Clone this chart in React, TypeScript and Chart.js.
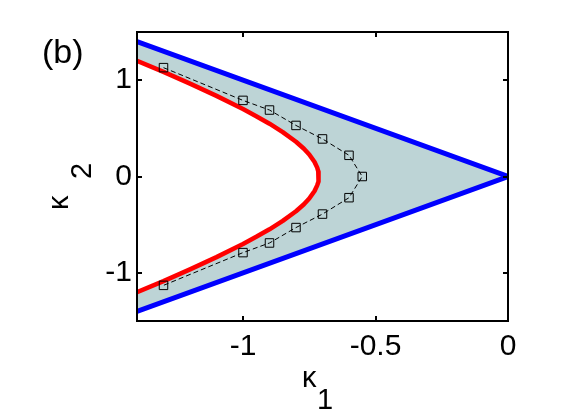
import React, { useEffect, useRef } from "react";
import { Chart, registerables } from "chart.js";

Chart.register(...registerables);

// Axis ticks
const xTickValues = [-1, -0.5, 0];
const xTickLabels = ["-1", "-0.5", "0"];
const yTickValues = [-1, 0, 1];
const yTickLabels = ["-1", "0", "1"];

// Blue boundary lines (upper branch, apex, lower branch)
const blueX = [-1.4, 0, -1.4];
const blueY = [1.4, 0, -1.4];

// Red curve (top to bottom)
const redX = [-1.4, -1.3, -1.2, -1.1, -1.0, -0.95, -0.9, -0.85, -0.8, -0.77, -0.75, -0.73, -0.72, -0.716, -0.714,
  -0.716, -0.72, -0.73, -0.75, -0.77, -0.8, -0.85, -0.9, -0.95, -1.0, -1.1, -1.2, -1.3, -1.4];
const redY = [1.2, 1.086, 0.964, 0.837, 0.7, 0.626, 0.548, 0.461, 0.361, 0.288, 0.229, 0.151, 0.092, 0.053, 0,
  -0.053, -0.092, -0.151, -0.229, -0.288, -0.361, -0.461, -0.548, -0.626, -0.7, -0.837, -0.964, -1.086, -1.2];

// Dashed line with square markers
const markerX = [-1.3, -1.0, -0.9, -0.8, -0.7, -0.6, -0.55, -0.6, -0.7, -0.8, -0.9, -1.0, -1.3];
const markerY = [1.13, 0.79, 0.69, 0.53, 0.39, 0.22, 0, -0.22, -0.39, -0.53, -0.69, -0.79, -1.13];

const FONT = '"Liberation Sans", Arial, sans-serif';

const toPts = (xs: number[], ys: number[]) => xs.map((x, i) => ({ x, y: ys[i] }));

export default function App() {
  const ref = useRef<HTMLCanvasElement | null>(null);

  useEffect(() => {
    if (!ref.current) return;
    const bluePts = toPts(blueX, blueY);
    const redPts = toPts(redX, redY);
    const fillPts = [...bluePts, ...redPts.slice().reverse()];

    const framePlugin = {
      id: "frame",
      afterDatasetsDraw(chart: any) {
        const { ctx, chartArea } = chart;
        const { left, right, top, bottom } = chartArea;
        const xs = chart.scales.x;
        const ys = chart.scales.y;
        ctx.save();
        ctx.strokeStyle = "#000";
        ctx.lineWidth = 2;
        ctx.strokeRect(left, top, right - left, bottom - top);
        ctx.beginPath();
        xTickValues.forEach((v) => {
          const px = Math.round(xs.getPixelForValue(v));
          ctx.moveTo(px, bottom);
          ctx.lineTo(px, bottom - 5);
          ctx.moveTo(px, top);
          ctx.lineTo(px, top + 5);
        });
        yTickValues.forEach((v) => {
          const py = Math.round(ys.getPixelForValue(v));
          ctx.moveTo(left, py);
          ctx.lineTo(left + 5, py);
          ctx.moveTo(right, py);
          ctx.lineTo(right - 5, py);
        });
        ctx.stroke();
        ctx.restore();
      },
      afterDraw(chart: any) {
        const { ctx } = chart;
        ctx.save();
        ctx.fillStyle = "#000";
        ctx.textBaseline = "alphabetic";
        ctx.textAlign = "left";
        // panel label
        ctx.font = `34px ${FONT}`;
        ctx.fillText("(b)", 42, 63);
        // x title
        ctx.font = `29px ${FONT}`;
        ctx.fillText("κ", 302, 387);
        ctx.fillText("1", 317, 409);
        // y title
        ctx.translate(68, 210);
        ctx.rotate(-Math.PI / 2);
        ctx.fillText("κ", 0, 0);
        ctx.fillText("2", 31, 23);
        ctx.restore();
      },
    };

    const chart = new Chart(ref.current, {
      type: "scatter",
      data: {
        datasets: [
          {
            data: fillPts,
            showLine: true,
            fill: "shape",
            backgroundColor: "rgb(189,212,214)",
            borderWidth: 0,
            borderColor: "rgba(0,0,0,0)",
            pointRadius: 0,
            order: 10,
          },
          {
            data: bluePts,
            showLine: true,
            borderColor: "#0000ff",
            borderWidth: 5,
            pointRadius: 0,
            fill: false,
            order: 3,
          },
          {
            data: redPts,
            showLine: true,
            borderColor: "#ff0000",
            borderWidth: 4.5,
            borderJoinStyle: "round",
            pointRadius: 0,
            fill: false,
            order: 2,
          },
          {
            data: toPts(markerX, markerY),
            showLine: true,
            borderColor: "#000",
            borderWidth: 1,
            borderDash: [5, 3],
            pointStyle: "rect",
            pointRadius: 6,
            pointBorderWidth: 1,
            pointBorderColor: "#000",
            pointBackgroundColor: "rgba(0,0,0,0)",
            fill: false,
            order: 1,
          },
        ],
      },
      options: {
        animation: false,
        responsive: false,
        devicePixelRatio: 1,
        layout: { padding: { left: 0, top: 32, right: 53, bottom: 0 } },
        plugins: { legend: { display: false }, tooltip: { enabled: false } },
        scales: {
          x: {
            type: "linear",
            min: -1.4,
            max: 0,
            grid: { display: false, drawTicks: false },
            border: { display: false },
            afterBuildTicks: (scale: any) => {
              scale.ticks = xTickValues.map((v) => ({ value: v }));
            },
            afterFit: (scale: any) => {
              scale.height = 99;
            },
            ticks: {
              autoSkip: false,
              maxRotation: 0,
              padding: 8,
              color: "#000",
              font: { size: 30, family: FONT },
              callback: (_v: any, i: number) => xTickLabels[i],
            },
          },
          y: {
            type: "linear",
            min: -1.5,
            max: 1.5,
            grid: { display: false, drawTicks: false },
            border: { display: false },
            afterBuildTicks: (scale: any) => {
              scale.ticks = yTickValues.map((v) => ({ value: v }));
            },
            afterFit: (scale: any) => {
              scale.width = 137;
            },
            ticks: {
              autoSkip: false,
              padding: 5,
              color: "#000",
              font: { size: 30, family: FONT },
              callback: (_v: any, i: number) => yTickLabels[i],
            },
          },
        },
      },
      plugins: [framePlugin],
    } as any);

    return () => chart.destroy();
  }, []);

  return (
    <div style={{ position: "absolute", left: 0, top: 0, width: 561, height: 420, background: "#fff" }}>
      <canvas ref={ref} width={561} height={420} style={{ width: 561, height: 420 }} />
    </div>
  );
}
